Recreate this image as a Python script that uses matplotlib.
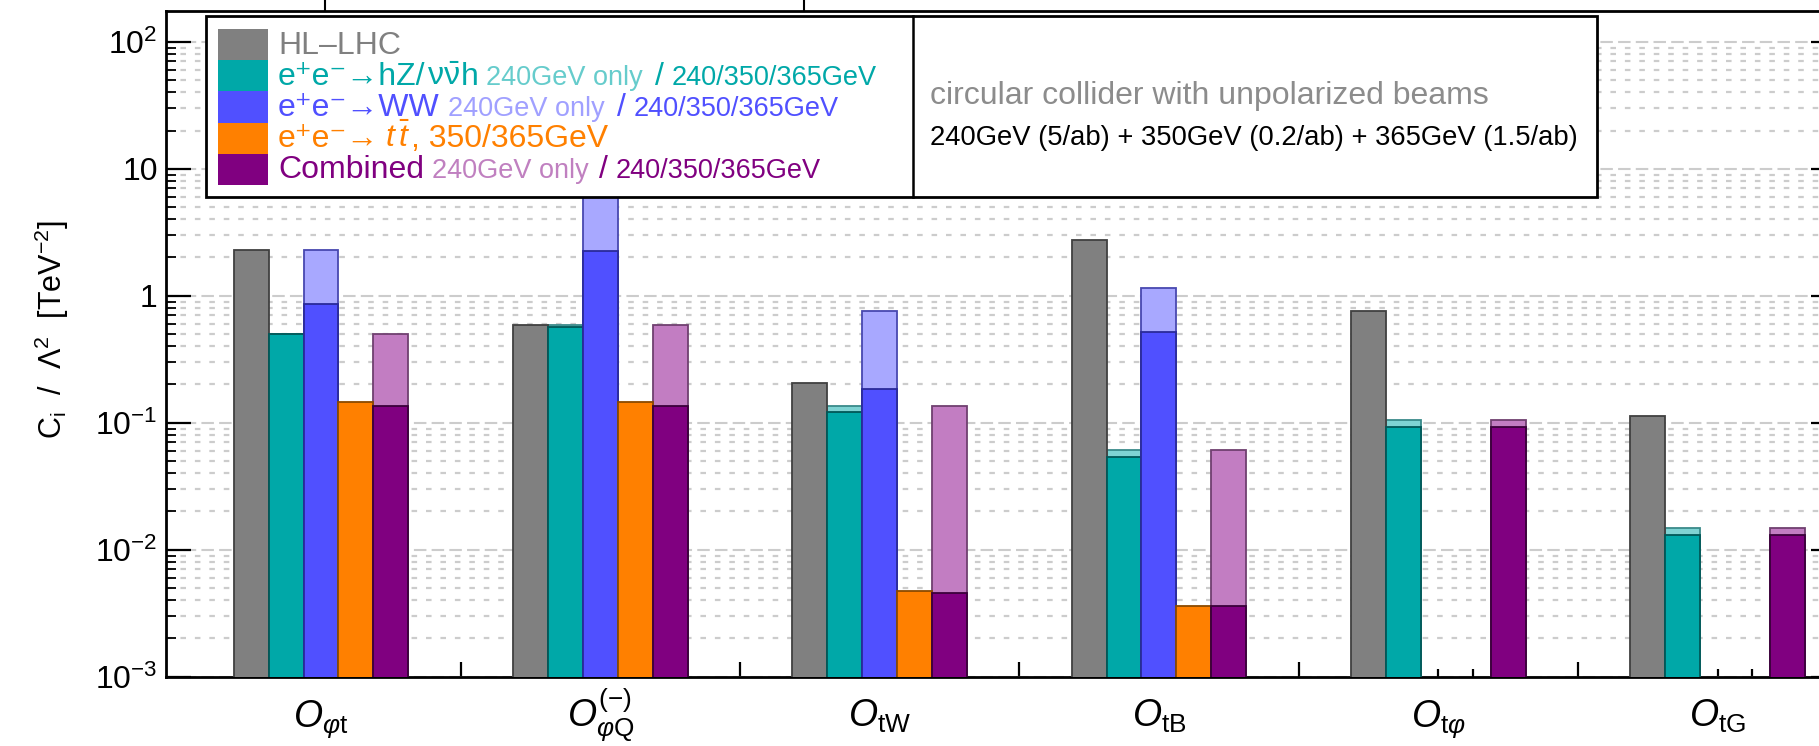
import numpy as np
import matplotlib
matplotlib.use("Agg")
import matplotlib.pyplot as plt
from matplotlib.patches import Rectangle
from matplotlib.ticker import FixedLocator, FixedFormatter, NullFormatter
from matplotlib.transforms import blended_transform_factory

# ---------------- data ----------------
categories = [r"$O_{\varphi\mathrm{t}}$", r"$O^{(-)}_{\varphi\mathrm{Q}}$", r"$O_{\mathrm{tW}}$",
              r"$O_{\mathrm{tB}}$", r"$O_{\mathrm{t}\varphi}$", r"$O_{\mathrm{tG}}$"]
hl_lhc   = [2.29, 0.59, 0.206, 2.75, 0.76, 0.113]
hz_240   = [0.50, 0.59, 0.136, 0.061, 0.105, 0.0148]
hz_all   = [0.50, 0.57, 0.122, 0.054, 0.093, 0.0131]
ww_240   = [2.29, 9.0, 0.76, 1.16, np.nan, np.nan]
ww_all   = [0.855, 2.25, 0.183, 0.52, np.nan, np.nan]
tt_all   = [0.145, 0.145, 0.0047, 0.0036, np.nan, np.nan]
comb_240 = [0.50, 0.59, 0.136, 0.061, 0.105, 0.0148]
comb_all = [0.135, 0.135, 0.0046, 0.0036, 0.093, 0.0131]

ytick_values = [1e-3, 1e-2, 1e-1, 1, 10, 100]
ytick_labels = [r"$10^{-3}$", r"$10^{-2}$", r"$10^{-1}$", "1", "10", r"$10^{2}$"]

# ---------------- style ----------------
plt.rcParams['font.family'] = ['Liberation Sans', 'DejaVu Sans']
plt.rcParams['mathtext.fontset'] = 'custom'
plt.rcParams['mathtext.rm'] = 'Liberation Sans'
plt.rcParams['mathtext.it'] = 'Liberation Sans:italic'
plt.rcParams['mathtext.bf'] = 'Liberation Sans:bold'

GRAY, GRAY_E = '#808080', '#404040'
TEAL, TEAL_L, TEAL_E, TEAL_LE = '#00a8a8', '#7fd3d3', '#005858', '#3a8a8a'
BLUE, BLUE_L, BLUE_E, BLUE_LE = '#5050ff', '#a8a8ff', '#2a2a9a', '#4848b0'
ORANGE, ORANGE_E = '#ff8000', '#8a4a00'
PURP, PURP_L, PURP_E, PURP_LE = '#800080', '#c27dc2', '#3a003a', '#704070'

W, H = 1819, 746
fig = plt.figure(figsize=(W / 100, H / 100), dpi=100)

ax_l, ax_r, ax_t, ax_b = 166, 1836, 11, 676.7
ax = fig.add_axes([ax_l / W, 1 - ax_b / H, (ax_r - ax_l) / W, (ax_b - ax_t) / H])
ax.set_yscale('log')
ax.set_ylim(1e-3, 174.6)
ax.set_xlim(-0.0548, 5.924)
ax.set_axisbelow(True)

bar_offset, bar_width = 0.1875, 0.125
base = 1e-4
xi = np.arange(len(categories))

series = [
    (hl_lhc, None, GRAY, GRAY_E, None, None),
    (hz_all, hz_240, TEAL, TEAL_E, TEAL_L, TEAL_LE),
    (ww_all, ww_240, BLUE, BLUE_E, BLUE_L, BLUE_LE),
    (tt_all, None, ORANGE, ORANGE_E, None, None),
    (comb_all, comb_240, PURP, PURP_E, PURP_L, PURP_LE),
]
for k, (full, only240, c, ce, cl, cle) in enumerate(series):
    xs = xi + bar_offset + k * bar_width
    if only240 is not None:
        v = np.array(only240, dtype=float)
        m = ~np.isnan(v)
        ax.bar(xs[m], v[m] - base, bottom=base, width=bar_width, align='edge',
               color=cl, edgecolor=cle, linewidth=1.3, zorder=2)
    v = np.array(full, dtype=float)
    m = ~np.isnan(v)
    ax.bar(xs[m], v[m] - base, bottom=base, width=bar_width, align='edge',
           color=c, edgecolor=ce, linewidth=1.3, zorder=3)

# grid
ax.yaxis.grid(True, which='major', color='#cccccc', linestyle=(0, (6, 2.5)), linewidth=1.5)
ax.yaxis.grid(True, which='minor', color='#cccccc', linestyle=(0, (2.5, 4)), linewidth=1.6)
ax.xaxis.grid(False)

# y ticks
ax.yaxis.set_major_locator(FixedLocator(ytick_values))
ax.yaxis.set_major_formatter(FixedFormatter(ytick_labels))
minor_y = [m * 10.0 ** e for e in range(-3, 3) for m in range(2, 10)]
ax.yaxis.set_minor_locator(FixedLocator(minor_y))
ax.yaxis.set_minor_formatter(NullFormatter())
ax.tick_params(axis='y', which='major', direction='in', length=18, width=1.6,
               right=True, labelsize=23, pad=6)
ax.tick_params(axis='y', which='minor', direction='in', length=7, width=1.3, right=True)

# x ticks: boundaries (major), bar centres (minor)
ax.xaxis.set_major_locator(FixedLocator(list(xi[1:])))
ax.xaxis.set_major_formatter(NullFormatter())
minor_x = [i + bar_offset + (k + 0.5) * bar_width for i in xi for k in range(5)]
ax.xaxis.set_minor_locator(FixedLocator(minor_x))
ax.tick_params(axis='x', which='major', direction='in', length=11, width=1.6, top=False)
ax.tick_params(axis='x', which='minor', direction='in', length=6, width=1.6, top=False)

for s in ax.spines.values():
    s.set_linewidth(2.0)

# category labels
tr = blended_transform_factory(ax.transData, fig.transFigure)
for i, lab in enumerate(categories):
    ax.text(i + 0.5, 1 - 727 / H, lab, transform=tr, ha='center', va='baseline', fontsize=27)

# y label
fig.text(52 / W, 1 - 330 / H, r"C$_{\mathrm{i}}$  /  $\Lambda^{2}$  [TeV$^{-2}$]",
         rotation=90, ha='center', va='center', fontsize=22)

# ---------------- overlay (legend & boxes) ----------------
ov = fig.add_axes([0, 0, 1, 1], zorder=10)
ov.set_xlim(0, W)
ov.set_ylim(H, 0)
ov.axis('off')

# fragments of the box above
for xx in (325, 804):
    ov.plot([xx, xx], [0, 11], color='black', lw=1.5)

ov.add_patch(Rectangle((206, 16), 1597 - 206, 197 - 16, facecolor='white',
                       edgecolor='black', linewidth=2.0))
ov.plot([913, 913], [16, 197], color='black', lw=1.8)

row_centers = [44.6, 75.8, 107.0, 138.2, 169.4]
patch_cols = [GRAY, TEAL, BLUE, ORANGE, PURP]
for yc, c in zip(row_centers, patch_cols):
    ov.add_patch(Rectangle((218, yc - 15.6), 50, 31.2, facecolor=c, edgecolor='none'))

MAIN, SEC = 23, 19.5
fig.canvas.draw()
rend = fig.canvas.get_renderer()

def draw_pieces(x, y, items):
    for s, c, fs, gap in items:
        x += gap
        t = ov.text(x, y, s, color=c, fontsize=fs, ha='left', va='baseline')
        bb = t.get_window_extent(rend)
        x += bb.width

rows = [
    [("HL–LHC", GRAY, MAIN, 0)],
    [("e⁺e⁻→hZ/", TEAL, MAIN, 0), (r"$\mathrm{\nu}\bar{\mathrm{\nu}}$", TEAL, MAIN, 1),
     ("h", TEAL, MAIN, 1),
     ("240GeV only", '#66cccc', SEC, 8), ("/", TEAL, MAIN, 12), ("240/350/365GeV", TEAL, SEC, 8)],
    [("e⁺e⁻→WW", BLUE, MAIN, 0),
     ("240GeV only", '#a0a0ff', SEC, 8), ("/", BLUE, MAIN, 12), ("240/350/365GeV", BLUE, SEC, 8)],
    [("e⁺e⁻→", ORANGE, MAIN, 0), (r"$t\,\bar{t}$", ORANGE, MAIN, 6),
     (", 350/365GeV", ORANGE, MAIN, 0)],
    [("Combined", PURP, MAIN, 0),
     ("240GeV only", '#c080c0', SEC, 8), ("/", PURP, MAIN, 10), ("240/350/365GeV", PURP, SEC, 8)],
]
for yc, items in zip(row_centers, rows):
    draw_pieces(278, yc + 9, items)

ov.text(930, 104, "circular collider with unpolarized beams", color='#8c8c8c',
        fontsize=23, ha='left', va='baseline')
ov.text(930, 145, "240GeV (5/ab) + 350GeV (0.2/ab) + 365GeV (1.5/ab)", color='black',
        fontsize=19.7, ha='left', va='baseline')

fig.savefig("out.png", dpi=100)
